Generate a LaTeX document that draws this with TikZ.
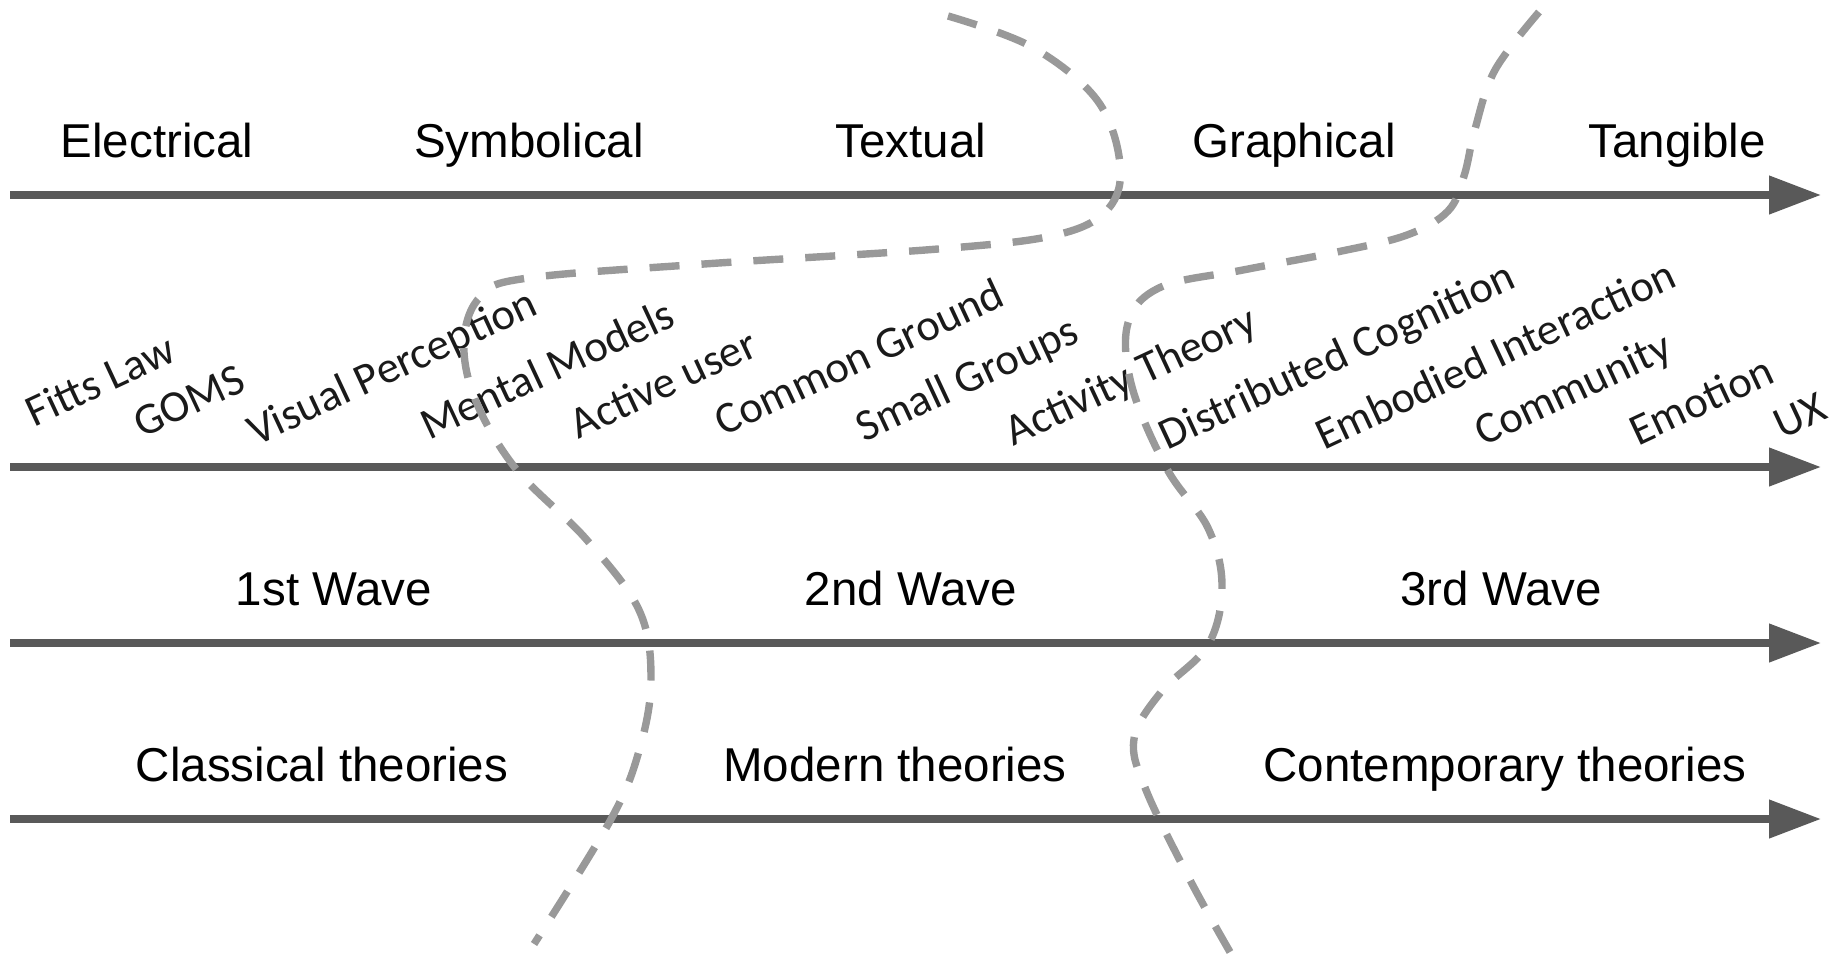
\documentclass[tikz,border=0pt]{standalone}
\usepackage{fontspec}
\setmainfont{Liberation Sans}
\newfontfamily\calib{Carlito}
\usetikzlibrary{arrows.meta}
\definecolor{axisgray}{HTML}{595959}
\definecolor{dashgray}{HTML}{999999}
\definecolor{labink}{HTML}{1A1A1A}
\tikzset{
  axis/.style={draw=axisgray, line width=3.8pt, -{Triangle[length=26pt,width=18.5pt]}},
  era/.style={font=\fontsize{23.75pt}{28pt}\selectfont, anchor=base, inner sep=0pt},
  topic/.style={font=\calib\fontsize{22.3pt}{26pt}\selectfont, text=labink, rotate=25, anchor=center, inner sep=0pt},
  divider/.style={draw=dashgray, line width=3.7pt, dash pattern=on 15pt off 11pt, line cap=butt}
}
\begin{document}
\begin{tikzpicture}[x=0.5pt,y=-0.5pt]
\useasboundingbox (0,0) rectangle (1839,954);
% axes
\coordinate (a1s) at (10,195); \coordinate (a1e) at (1821,195);
\coordinate (a2s) at (10,467); \coordinate (a2e) at (1821,467);
\coordinate (a3s) at (10,643); \coordinate (a3e) at (1821,643);
\coordinate (a4s) at (10,819); \coordinate (a4e) at (1821,819);
\draw[axis] (a1s) -- (a1e);
\draw[axis] (a2s) -- (a2e);
\draw[axis] (a3s) -- (a3e);
\draw[axis] (a4s) -- (a4e);
% row 1
\node[era] (electrical) at (157,157) {Electrical};
\node[era] (symbolical) at (529,157) {Symbolical};
\node[era] (textual) at (911,157) {Textual};
\node[era] (graphical) at (1294,157) {Graphical};
\node[era] (tangible) at (1677,157) {Tangible};
% row 3
\node[era] (w1) at (334,605) {1st Wave};
\node[era] (w2) at (911,605) {2nd Wave};
\node[era] (w3) at (1501,605) {3rd Wave};
% row 4
\node[era] (classical) at (322,781) {Classical theories};
\node[era] (modern) at (895,781) {Modern theories};
\node[era] (contemp) at (1505,781) {Contemporary theories};
% topics
\node[topic] (fitts) at (100,380) {Fitts Law};
\node[topic] (goms) at (189,401) {GOMS};
\node[topic] (visual) at (393,369) {Visual Perception};
\node[topic] (mental) at (547,369) {Mental Models};
\node[topic] (active) at (663,383) {Active user};
\node[topic] (common) at (859,357) {Common Ground};
\node[topic] (small) at (968,381) {Small Groups};
\node[topic] (activity) at (1132,378) {Activity Theory};
\node[topic] (distributed) at (1338,358) {Distributed Cognition};
\node[topic] (embodied) at (1495,354) {Embodied Interaction};
\node[topic] (community) at (1574,391) {Community};
\node[topic] (emotion) at (1701,400) {Emotion};
\node[topic] (ux) at (1800,416) {UX};
% dividers
\draw[divider] plot[smooth, tension=0.6] coordinates {
  (948,16) (1032,47) (1097,100) (1120,164) (1108,209) (1056,235) (938,249)
  (704,264) (528,278) (481,296) (464,340) (475,399) (516,469) (586,539)
  (639,610) (651,680) (639,751) (610,821) (534,944)};
\draw[divider] plot[smooth, tension=0.6] coordinates {
  (1539,12) (1495,70) (1475,129) (1464,176) (1448,211) (1407,235) (1337,252)
  (1243,270) (1161,287) (1128,323) (1132,387) (1167,469) (1208,528) (1222,586)
  (1208,645) (1161,692) (1134,739) (1146,790) (1190,880) (1230,952)};
\end{tikzpicture}
\end{document}
